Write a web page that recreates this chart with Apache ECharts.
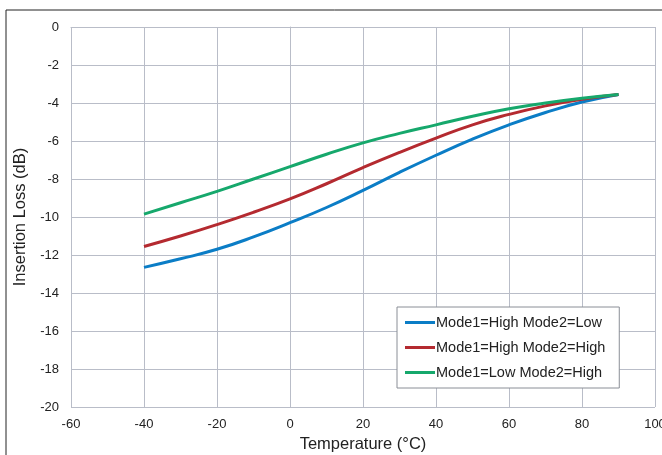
<!DOCTYPE html>
<html><head><meta charset="utf-8">
<script src="https://cdn.jsdelivr.net/npm/echarts@6/dist/echarts.min.js"></script>
<style>html,body{margin:0;padding:0;background:#fff}#c{width:662px;height:455px}</style>
</head><body><div id="c"></div>
<script>
var temps = [-40,-30,-20,-10,0,10,20,30,40,50,60,70,80,90];
var highLow  = [-12.65,-12.2,-11.7,-11.05,-10.3,-9.5,-8.6,-7.65,-6.75,-5.9,-5.15,-4.5,-3.95,-3.55];
var highHigh = [-11.55,-11.0,-10.4,-9.75,-9.05,-8.25,-7.4,-6.6,-5.85,-5.15,-4.6,-4.15,-3.8,-3.55];
var lowHigh  = [-9.85,-9.25,-8.65,-8.0,-7.35,-6.7,-6.1,-5.6,-5.15,-4.7,-4.3,-4.0,-3.75,-3.55];
var seriesNames = ['Mode1=High Mode2=Low','Mode1=High Mode2=High','Mode1=Low Mode2=High'];
var colors = ['#0b7dc6','#b42a30','#16a86c'];
function pairs(v){return temps.map(function(t,i){return [t,v[i]];});}
var chart = echarts.init(document.getElementById('c'));
var font = 'Liberation Sans, Arial, sans-serif';
var gridColor = '#b9bdc8';
chart.setOption({
  animation:false,
  backgroundColor:'#fff',
  grid:{left:71,right:7,top:27,bottom:48,outerBoundsMode:'none',containLabel:false},
  graphic:[{type:'rect',shape:{x:6,y:10,width:700,height:500},style:{fill:'none',stroke:'#222',lineWidth:1},z:-1}],
  legend:{
    orient:'vertical', left:397, top:307,
    padding:[8,14,8,8], itemGap:10, itemWidth:30, itemHeight:3,
    backgroundColor:'#fff', borderColor:'#8a8e96', borderWidth:1,
    icon:'rect',
    textStyle:{fontFamily:font,fontSize:14.5,color:'#222',padding:[0,0,0,-4]},
    data:seriesNames
  },
  xAxis:{
    type:'value', min:-60, max:100, interval:20,
    name:'Temperature (°C)', nameLocation:'middle', nameGap:29,
    nameTextStyle:{fontFamily:font,fontSize:16.5,color:'#222'},
    axisLine:{show:true,lineStyle:{color:gridColor}}, axisTick:{show:false},
    axisLabel:{fontFamily:font,fontSize:13,color:'#222',margin:11},
    splitLine:{show:true,lineStyle:{color:gridColor,width:1}}
  },
  yAxis:{
    type:'value', min:-20, max:0, interval:2,
    name:'Insertion Loss (dB)', nameLocation:'middle', nameGap:42, nameRotate:90,
    nameTextStyle:{fontFamily:font,fontSize:16.5,color:'#222'},
    axisLine:{show:true,lineStyle:{color:gridColor}}, axisTick:{show:false},
    axisLabel:{fontFamily:font,fontSize:13,color:'#222',margin:12},
    splitLine:{show:true,lineStyle:{color:gridColor,width:1}}
  },
  series:[
    {name:seriesNames[0],type:'line',data:pairs(highLow),smooth:0.5,showSymbol:false,lineStyle:{width:3,color:colors[0]},itemStyle:{color:colors[0]}},
    {name:seriesNames[1],type:'line',data:pairs(highHigh),smooth:0.5,showSymbol:false,lineStyle:{width:3,color:colors[1]},itemStyle:{color:colors[1]}},
    {name:seriesNames[2],type:'line',data:pairs(lowHigh),smooth:0.5,showSymbol:false,lineStyle:{width:3,color:colors[2]},itemStyle:{color:colors[2]}}
  ]
});
</script></body></html>
